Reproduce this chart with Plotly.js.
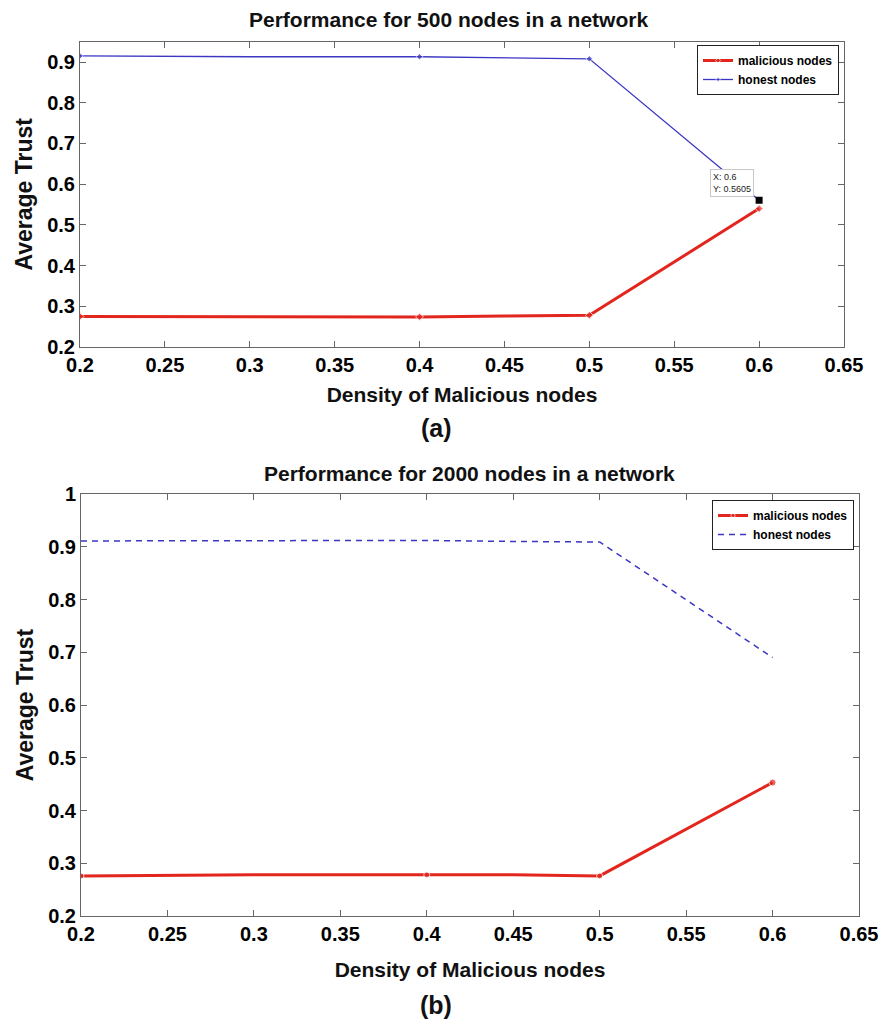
<!DOCTYPE html>
<html>
<head>
<meta charset="utf-8">
<script src="https://cdn.plot.ly/plotly-3.0.1.min.js"></script>
<style>html,body{margin:0;padding:0;background:#fff;}</style>
</head>
<body>
<div id="chart" style="width:882px;height:1024px;"></div>
<script>
// Panel (a): 500 nodes
const densityA = [0.2, 0.3, 0.4, 0.45, 0.5, 0.6];
const maliciousA = [0.275, 0.275, 0.274, 0.276, 0.278, 0.54];
const honestA = [0.915, 0.913, 0.913, 0.911, 0.908, 0.5605];
const markerA = [true, false, true, false, true, true];

// Panel (b): 2000 nodes
const densityB = [0.2, 0.3, 0.4, 0.45, 0.5, 0.6];
const maliciousB = [0.276, 0.278, 0.278, 0.278, 0.276, 0.453];
const honestB = [0.911, 0.912, 0.912, 0.910, 0.909, 0.69];

const datatipIndex = 5; // datatip on honest nodes, x = 0.6

const titleA = "Performance for 500 nodes in a network";
const titleB = "Performance for 2000 nodes in a network";
const xTitle = "Density of Malicious nodes";
const yTitle = "Average Trust";

const RED = "#e3261d";
const BLUE = "#3b36c4";
const FONT = "Liberation Sans, Arial, sans-serif";

const traces = [
  {x: densityA, y: maliciousA, type: "scatter", mode: "lines+markers", name: "malicious nodes",
   line: {color: RED, width: 3}, marker: {color: RED, size: markerA.map(m => m ? 6 : 0), symbol: "diamond"},
   xaxis: "x", yaxis: "y", legend: "legend"},
  {x: densityA, y: honestA, type: "scatter", mode: "lines+markers", name: "honest nodes",
   line: {color: BLUE, width: 1.3}, marker: {color: BLUE, size: markerA.map(m => m ? 5 : 0), symbol: "diamond"},
   xaxis: "x", yaxis: "y", legend: "legend"},
  {x: [densityA[datatipIndex]], y: [honestA[datatipIndex]], type: "scatter", mode: "markers",
   marker: {color: "#000", size: 7, symbol: "square"}, showlegend: false, hoverinfo: "skip",
   xaxis: "x", yaxis: "y"},
  {x: densityB, y: maliciousB, type: "scatter", mode: "lines+markers", name: "malicious nodes",
   line: {color: RED, width: 3}, marker: {color: RED, size: [6, 0, 6, 0, 6, 7], symbol: "circle"},
   xaxis: "x2", yaxis: "y2", legend: "legend2"},
  {x: densityB, y: honestB, type: "scatter", mode: "lines", name: "honest nodes",
   line: {color: BLUE, width: 1.5, dash: "6px,5px"},
   xaxis: "x2", yaxis: "y2", legend: "legend2"}
];

const axisCommon = {
  ticks: "inside", ticklen: 6, tickcolor: "#666", tickwidth: 1,
  showline: true, linecolor: "#666", linewidth: 1, mirror: "ticks",
  showgrid: false, zeroline: false,
  tickfont: {family: FONT, size: 20, color: "#000", weight: "bold"}
};
const xTitleFont = {family: FONT, size: 21, color: "#111", weight: "bold"};
const yTitleFont = {family: FONT, size: 23, color: "#111", weight: "bold"};

const layout = {
  width: 882, height: 1024, autosize: false,
  margin: {l: 0, r: 0, t: 0, b: 0},
  paper_bgcolor: "#fff", plot_bgcolor: "#fff",
  font: {family: FONT, color: "#000"},
  xaxis: Object.assign({}, axisCommon, {
    domain: [80/882, 844/882], range: [0.2, 0.65], dtick: 0.05, tick0: 0.2, anchor: "y",
    title: {text: xTitle, font: xTitleFont, standoff: 12}
  }),
  yaxis: Object.assign({}, axisCommon, {
    domain: [1 - 347/1024, 1 - 41.7/1024], range: [0.2, 0.95], dtick: 0.1, tick0: 0.2, anchor: "x",
    title: {text: yTitle, font: yTitleFont, standoff: 8}
  }),
  xaxis2: Object.assign({}, axisCommon, {
    domain: [81/882, 859/882], range: [0.2, 0.65], dtick: 0.05, tick0: 0.2, anchor: "y2",
    title: {text: xTitle, font: xTitleFont, standoff: 18}
  }),
  yaxis2: Object.assign({}, axisCommon, {
    domain: [1 - 916/1024, 1 - 494/1024], range: [0.2, 1.0], dtick: 0.1, tick0: 0.2, anchor: "x2",
    title: {text: yTitle, font: yTitleFont, standoff: 8}
  }),
  legend: {
    x: 839/882, xanchor: "right", y: 1 - 45/1024, yanchor: "top",
    bgcolor: "#fff", bordercolor: "#222", borderwidth: 1,
    font: {family: FONT, size: 12, color: "#000", weight: "bold"}, itemwidth: 30, tracegroupgap: 0
  },
  legend2: {
    x: 854/882, xanchor: "right", y: 1 - 500/1024, yanchor: "top",
    bgcolor: "#fff", bordercolor: "#222", borderwidth: 1,
    font: {family: FONT, size: 12, color: "#000", weight: "bold"}, itemwidth: 30, tracegroupgap: 0
  },
  annotations: [
    {text: "<b>" + titleA + "</b>", xref: "paper", yref: "paper", x: 448/882, y: 1 - 19/1024,
     xanchor: "center", yanchor: "middle",
     showarrow: false, font: {family: FONT, size: 21, color: "#111"}},
    {text: "<b>(a)</b>", xref: "paper", yref: "paper", x: 436/882, y: 1 - 428/1024,
     xanchor: "center", yanchor: "middle",
     showarrow: false, font: {family: FONT, size: 25, color: "#111"}},
    {text: "<b>" + titleB + "</b>", xref: "paper", yref: "paper", x: 469/882, y: 1 - 473/1024,
     xanchor: "center", yanchor: "middle",
     showarrow: false, font: {family: FONT, size: 21, color: "#111"}},
    {text: "<b>(b)</b>", xref: "paper", yref: "paper", x: 436/882, y: 1 - 1005/1024,
     xanchor: "center", yanchor: "middle",
     showarrow: false, font: {family: FONT, size: 25, color: "#111"}},
    {text: "X: " + densityA[datatipIndex] + "<br>Y: " + honestA[datatipIndex], align: "left",
     xref: "x", yref: "y", x: densityA[datatipIndex], y: honestA[datatipIndex],
     xanchor: "right", yanchor: "bottom", xshift: -5, yshift: 3, showarrow: false,
     bgcolor: "#ffffff", bordercolor: "#c8c8c8", borderwidth: 1, borderpad: 2,
     font: {family: FONT, size: 9, color: "#222"}}
  ]
};

Plotly.newPlot("chart", traces, layout, {displayModeBar: false, staticPlot: true});
</script>
</body>
</html>
